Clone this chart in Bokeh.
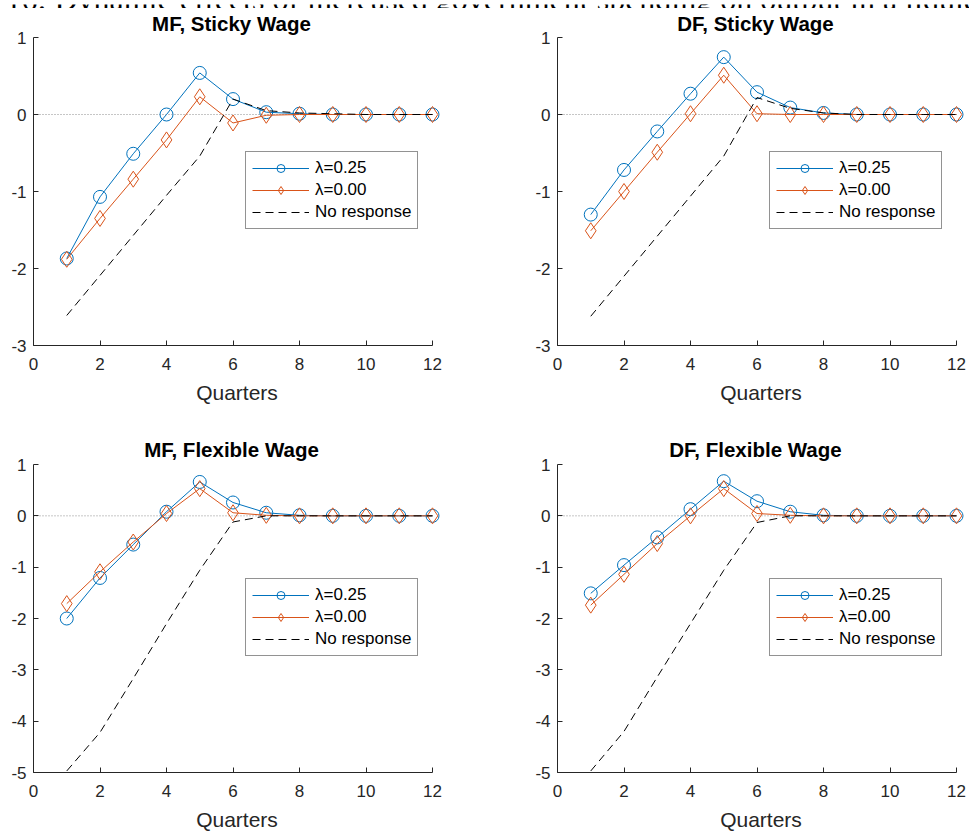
from bokeh.plotting import figure
from bokeh.models import Range1d, FixedTicker, Legend, LegendItem, Label
from bokeh.layouts import column, row
from bokeh.embed import file_html
from bokeh.resources import INLINE

# ---------------- data ----------------
SUPTITLE = "16: Dynamic effects of increased government spending on output in a liquid"
quarters = [1, 2, 3, 4, 5, 6, 7, 8, 9, 10, 11, 12]
x_ticks = [0, 2, 4, 6, 8, 10, 12]
y_ticks_sticky = [-3, -2, -1, 0, 1]
y_ticks_flex = [-5, -4, -3, -2, -1, 0, 1]
legend_labels = ["λ=0.25", "λ=0.00", "No response"]
x_label = "Quarters"

mf_sticky_title = "MF, Sticky Wage"
mf_sticky_l25 = [-1.87, -1.07, -0.51, 0.00, 0.54, 0.20, 0.03, 0.01, 0.00, 0.00, 0.00, 0.00]
mf_sticky_l00 = [-1.88, -1.35, -0.84, -0.33, 0.23, -0.11, -0.01, 0.00, 0.00, 0.00, 0.00, 0.00]
mf_sticky_none = [-2.61, -2.09, -1.57, -1.05, -0.54, 0.20, 0.05, 0.02, 0.01, 0.00, 0.00, 0.00]

df_sticky_title = "DF, Sticky Wage"
df_sticky_l25 = [-1.30, -0.72, -0.22, 0.27, 0.745, 0.29, 0.09, 0.02, 0.00, 0.00, 0.00, 0.00]
df_sticky_l00 = [-1.51, -1.00, -0.49, 0.01, 0.51, 0.01, 0.00, 0.00, 0.00, 0.00, 0.00, 0.00]
df_sticky_none = [-2.62, -2.10, -1.58, -1.06, -0.54, 0.22, 0.08, 0.02, 0.00, 0.00, 0.00, 0.00]

mf_flex_title = "MF, Flexible Wage"
mf_flex_l25 = [-2.00, -1.21, -0.56, 0.08, 0.66, 0.26, 0.06, 0.01, 0.00, 0.00, 0.00, 0.00]
mf_flex_l00 = [-1.71, -1.09, -0.51, 0.045, 0.53, 0.06, 0.01, 0.00, 0.00, 0.00, 0.00, 0.00]
mf_flex_none = [-4.97, -4.22, -3.17, -2.10, -1.06, -0.12, 0.00, 0.00, 0.00, 0.00, 0.00, 0.00]

df_flex_title = "DF, Flexible Wage"
df_flex_l25 = [-1.51, -0.96, -0.42, 0.13, 0.675, 0.285, 0.08, 0.01, 0.00, 0.00, 0.00, 0.00]
df_flex_l00 = [-1.74, -1.14, -0.54, 0.00, 0.53, 0.045, 0.01, 0.00, 0.00, 0.00, 0.00, 0.00]
df_flex_none = [-4.97, -4.20, -3.14, -2.10, -1.06, -0.13, 0.00, 0.00, 0.00, 0.00, 0.00, 0.00]

# ---------------- style / geometry ----------------
BLUE = "#0072BD"
ORANGE = "#D95319"
AXIS = "#262626"
FONT = "Liberation Sans"
TITLE_PX = 20.5
PAGE_W = 969
LEFT_W, RIGHT_W = 484, 485
LEFT_BORDER_L, LEFT_BORDER_R = 33, 44
RIGHT_BORDER_L, RIGHT_BORDER_R = 73, 5
AXIS_W = 399           # pixels spanned by 0..12
FRAME_W = 407          # a few extra px on the right so edge markers are not clipped
X_END = 12 * FRAME_W / AXIS_W

# Liberation Sans Bold advance widths (per 1000 em) used to centre titles over 0..12
_ADV = {"M": 833, "D": 722, "F": 611, ",": 278, " ": 278, "S": 667, "t": 333, "i": 278,
        "c": 556, "k": 556, "y": 556, "W": 944, "a": 556, "g": 611, "e": 556, "l": 278,
        "x": 556, "b": 611}


def title_offset(text):
    w = sum(_ADV.get(ch, 556) for ch in text) * TITLE_PX / 1000.0
    return AXIS_W / 2.0 - w / 2.0


def make_panel(title, l25, l00, none, yticks, width, left, right, height, top, bottom,
               title_standoff):
    p = figure(width=width, height=height, output_backend="svg", toolbar_location=None,
               x_range=Range1d(0, X_END), y_range=Range1d(yticks[0], yticks[-1]),
               min_border_left=left, min_border_right=right,
               min_border_top=top, min_border_bottom=bottom)
    p.outline_line_color = None
    p.xgrid.visible = False
    p.ygrid.visible = False
    p.background_fill_color = "white"
    p.border_fill_color = "white"

    p.title.text = title
    p.title.align = "left"
    p.title.offset = title_offset(title)
    p.title.text_font = FONT
    p.title.text_font_size = f"{TITLE_PX}px"
    p.title.text_font_style = "bold"
    p.title.text_color = "black"
    p.title.standoff = title_standoff

    for ax in (p.xaxis[0], p.yaxis[0]):
        ax.axis_line_color = AXIS
        ax.axis_line_width = 1
        ax.major_tick_line_color = AXIS
        ax.major_tick_in = 5
        ax.major_tick_out = 0
        ax.minor_tick_line_color = None
        ax.major_label_text_font = FONT
        ax.major_label_text_font_size = "17px"
        ax.major_label_text_color = AXIS
    p.xaxis.ticker = FixedTicker(ticks=x_ticks)
    p.xaxis.major_label_overrides = {t: str(t) for t in x_ticks}
    p.xaxis.bounds = (x_ticks[0], x_ticks[-1])
    p.xaxis.major_label_standoff = 12
    p.xaxis.axis_label = x_label
    p.xaxis.axis_label_text_font = FONT
    p.xaxis.axis_label_text_font_size = "21px"
    p.xaxis.axis_label_text_font_style = "normal"
    p.xaxis.axis_label_text_color = AXIS
    p.xaxis.axis_label_standoff = 8
    p.yaxis.ticker = FixedTicker(ticks=yticks)
    p.yaxis.major_label_overrides = {t: str(t) for t in yticks}
    p.yaxis.major_label_standoff = 7

    # dotted zero reference line
    p.segment(x0=[x_ticks[0]], y0=[0], x1=[x_ticks[-1]], y1=[0],
              line_color="#8c8c8c", line_dash="1 2", line_width=1)

    r1l = p.line(quarters, l25, line_color=BLUE, line_width=1)
    r1s = p.scatter(quarters, l25, marker="circle", size=13, line_color=BLUE,
                    fill_color=None, line_width=1)
    r2l = p.line(quarters, l00, line_color=ORANGE, line_width=1)
    r2s = p.scatter(quarters, l00, marker="diamond", size=16, line_color=ORANGE,
                    fill_color=None, line_width=1)
    r3 = p.line(quarters, none, line_color="black", line_dash="8 5", line_width=1)

    leg = Legend(items=[LegendItem(label=legend_labels[0], renderers=[r1l, r1s]),
                        LegendItem(label=legend_labels[1], renderers=[r2l, r2s]),
                        LegendItem(label=legend_labels[2], renderers=[r3])],
                 location=(212, 116), glyph_width=57, glyph_height=20, label_height=20,
                 spacing=2, padding=6, margin=0, label_standoff=6,
                 label_text_font=FONT, label_text_font_size="17px",
                 label_text_color="black",
                 border_line_color=AXIS, border_line_width=1,
                 background_fill_color="white", background_fill_alpha=1.0)
    p.add_layout(leg)
    return p


# caption strip (clipped at the top, as in the reference)
CAP_H = 8
cap = figure(width=PAGE_W, height=CAP_H, output_backend="svg", toolbar_location=None,
             x_range=Range1d(0, PAGE_W), y_range=Range1d(0, CAP_H),
             x_axis_type=None, y_axis_type=None, min_border=0)
cap.outline_line_color = None
cap.xgrid.visible = False
cap.ygrid.visible = False
cap.add_layout(Label(x=5, y=13.8, x_units="screen", y_units="screen", text=SUPTITLE,
                     text_font="Liberation Serif", text_font_size="32px",
                     text_baseline="alphabetic", text_align="left", text_color="black"))

p1 = make_panel(mf_sticky_title, mf_sticky_l25, mf_sticky_l00, mf_sticky_none,
                y_ticks_sticky, LEFT_W, LEFT_BORDER_L, LEFT_BORDER_R, 424, 29, 87, 4.2)
p2 = make_panel(df_sticky_title, df_sticky_l25, df_sticky_l00, df_sticky_none,
                y_ticks_sticky, RIGHT_W, RIGHT_BORDER_L, RIGHT_BORDER_R, 424, 29, 87, 4.2)
p3 = make_panel(mf_flex_title, mf_flex_l25, mf_flex_l00, mf_flex_none,
                y_ticks_flex, LEFT_W, LEFT_BORDER_L, LEFT_BORDER_R, 405, 32, 65, 6.3)
p4 = make_panel(df_flex_title, df_flex_l25, df_flex_l00, df_flex_none,
                y_ticks_flex, RIGHT_W, RIGHT_BORDER_L, RIGHT_BORDER_R, 405, 32, 65, 6.3)

layout = column(cap, row(p1, p2, spacing=0), row(p3, p4, spacing=0), spacing=0)

with open("out.html", "w") as f:
    f.write(file_html(layout, INLINE, title="Dynamic effects"))
